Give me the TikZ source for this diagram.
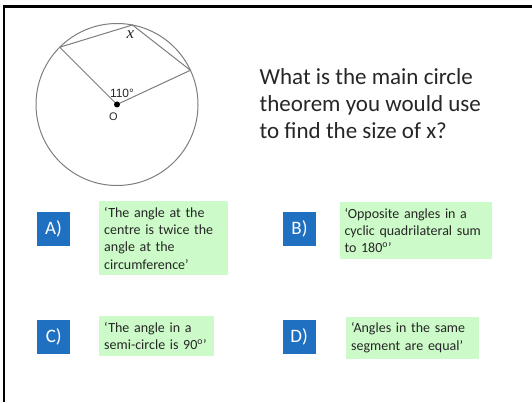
\documentclass[tikz,border=0pt]{standalone}
\usepackage{fontspec}
\setmainfont{Carlito}
\newfontfamily\arialfont{Liberation Sans}
\newfontfamily\timesfont{Liberation Serif}
\usetikzlibrary{calc}
\definecolor{optblue}{RGB}{31,112,193}
\definecolor{optgreen}{RGB}{204,250,200}
\definecolor{linegrey}{RGB}{125,125,125}
\definecolor{textgrey}{RGB}{38,38,38}
\tikzset{
  letterbox/.style={fill=optblue, text=white, minimum width=33pt, minimum height=34pt,
    inner sep=0pt, font=\fontsize{19}{20}\selectfont},
  answerbox/.style={fill=optgreen, text=textgrey, anchor=north west, align=left,
    inner xsep=5pt, inner ysep=6pt, font=\fontsize{14}{17.3}\selectfont},
}
\begin{document}
\begin{tikzpicture}[x=1pt,y=1pt]
\useasboundingbox (0,0) rectangle (532,402);
% frame
\draw[line width=2.5pt] (4,0) -- (4,395.5) -- (532,395.5);
% circle and quadrilateral
\coordinate (O) at (117,297.5);
\draw[linegrey, line width=1pt] (O) circle[radius=81];
\coordinate (P1) at ($(O)+(135:81)$);
\coordinate (P2) at ($(O)+(79:81)$);
\coordinate (P3) at ($(O)+(25:81)$);
\draw[linegrey, line width=1pt] (O) -- (P1) -- (P2) -- (P3) -- (O);
\fill (O) circle[radius=3];
\node[font=\arialfont\fontsize{12}{12}\selectfont, text=textgrey] (lblangle) at (122,309) {110°};
\node[font=\arialfont\fontsize{11}{11}\selectfont, text=textgrey] (lblO) at (113.5,285) {O};
\node[font=\timesfont\itshape\fontsize{17}{17}\selectfont, text=textgrey] (lblx) at (130.5,367.5) {x};
% question
\node[anchor=north west, align=left, inner sep=0pt, text=textgrey,
  font=\fontsize{23}{27}\selectfont] (question) at (259.5,334)
  {What is the main circle\\theorem you would use\\to find the size of x?};
% options
\node[letterbox] (letA) at (53.5,173) {A)};
\node[answerbox, text width=119pt] (ansA) at (99,201)
  {‘The angle at the\\centre is twice the\\angle at the\\circumference’};
\node[letterbox] (letB) at (299.5,173.5) {B)};
\node[answerbox, text width=142pt] (ansB) at (339.3,200)
  {‘Opposite angles in a\\cyclic quadrilateral sum\\to 180\textsuperscript{o}’};
\node[letterbox] (letC) at (53.7,64.7) {C)};
\node[answerbox, text width=105pt] (ansC) at (99,86)
  {‘The angle in a\\semi-circle is 90\textsuperscript{o}’};
\node[letterbox] (letD) at (299.2,64.7) {D)};
\node[answerbox, text width=123pt] (ansD) at (346,85.5)
  {‘Angles in the same\\segment are equal’};
\end{tikzpicture}
\end{document}
